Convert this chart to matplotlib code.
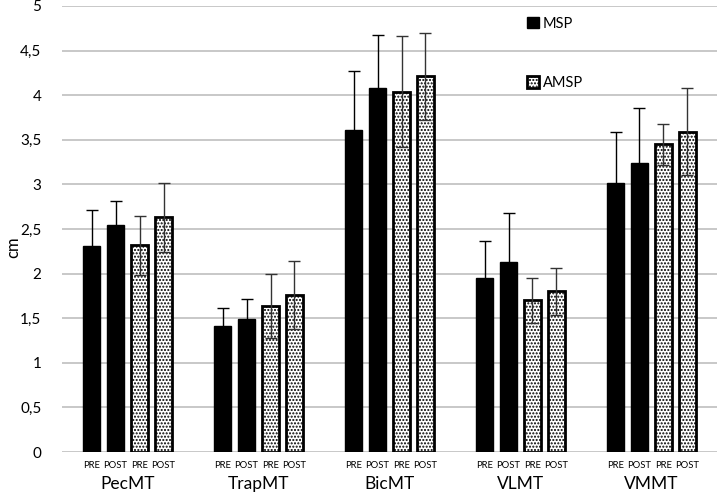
import numpy as np
import matplotlib.pyplot as plt
from matplotlib.transforms import blended_transform_factory

plt.rcParams['font.family'] = ['Lato', 'DejaVu Sans']
plt.rcParams['hatch.linewidth'] = 1.0

# Données
muscles = ['PecMT', 'TrapMT', 'BicMT', 'VLMT', 'VMMT']
phases = ['PRE', 'POST', 'PRE', 'POST']

msp_pre = [2.31, 1.41, 3.61, 1.95, 3.01]
msp_post = [2.55, 1.49, 4.08, 2.13, 3.24]
amsp_pre = [2.32, 1.64, 4.04, 1.70, 3.45]
amsp_post = [2.63, 1.76, 4.21, 1.80, 3.59]

msp_pre_sd = [0.40, 0.21, 0.66, 0.41, 0.58]
msp_post_sd = [0.26, 0.22, 0.59, 0.55, 0.62]
amsp_pre_sd = [0.33, 0.36, 0.62, 0.25, 0.23]
amsp_post_sd = [0.39, 0.38, 0.49, 0.26, 0.49]

ticks = ['0', '0,5', '1', '1,5', '2', '2,5', '3', '3,5', '4', '4,5', '5']

fig = plt.figure(figsize=(7.22, 4.93), dpi=100)
ax = fig.add_axes([0.086, 0.083, 0.907, 0.905])

x = np.arange(len(muscles))
pas = 0.183
larg = 0.13
series = [(msp_pre, msp_pre_sd, 'MSP'), (msp_post, msp_post_sd, None),
          (amsp_pre, amsp_pre_sd, 'AMSP'), (amsp_post, amsp_post_sd, None)]
offsets = [-1.5, -0.5, 0.5, 1.5]

for k, (vals, sd, lab) in enumerate(series):
    pos = x + offsets[k] * pas
    if k < 2:
        ax.bar(pos, vals, larg, color='black', edgecolor='black', label=lab, zorder=2)
        col = 'black'
    else:
        ax.bar(pos, vals, larg, color='white', edgecolor='black', hatch='.....',
               linewidth=2, label=lab, zorder=2)
        col = '#333333'
    ax.errorbar(pos, vals, yerr=sd, fmt='none', ecolor=col, elinewidth=1,
                capsize=4, capthick=1, zorder=3)

ax.set_ylim(0, 5)
ax.set_xlim(-0.5, 4.5)
ax.set_yticks(np.arange(0, 5.01, 0.5))
ax.set_yticklabels(ticks, fontsize=11)
ax.yaxis.grid(True, color='#bfbfbf', linewidth=1.2, zorder=0)
ax.set_axisbelow(True)
ax.tick_params(axis='y', length=0, pad=15)
ax.set_xticks([])
for s in ax.spines.values():
    s.set_visible(False)
ax.set_ylabel('cm', fontsize=12)
ax.yaxis.set_label_coords(-0.063, 0.46)

# Étiquettes PRE/POST et noms des muscles
tr = blended_transform_factory(ax.transData, ax.transAxes)
for i in range(len(muscles)):
    for k in range(4):
        ax.text(x[i] + offsets[k] * pas, -0.03, phases[k], transform=tr,
                ha='center', va='center', fontsize=6.8)
    ax.text(x[i], -0.071, muscles[i], transform=tr, ha='center', va='center', fontsize=12.5)

ax.legend(loc='upper left', bbox_to_anchor=(0.69, 1.005), frameon=False, fontsize=10.5,
          labelspacing=3.1, handlelength=0.8, handleheight=0.8, handletextpad=0.3)

fig.savefig('out.png', dpi=100)
